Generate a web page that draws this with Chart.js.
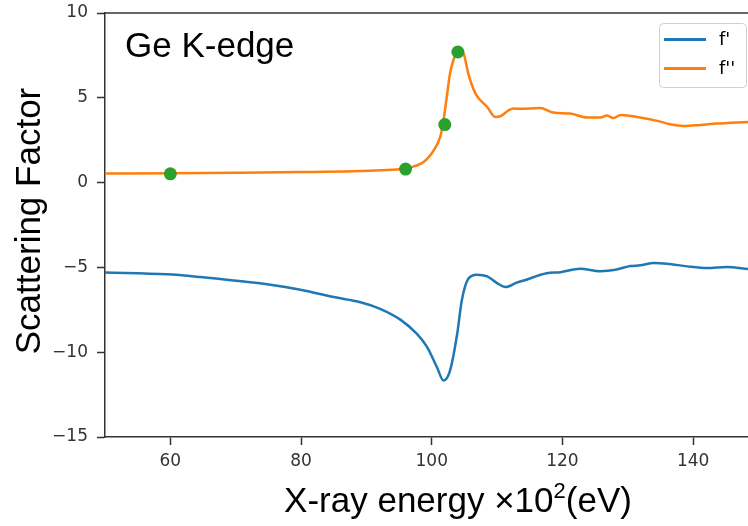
<!DOCTYPE html>
<html>
<head>
<meta charset="utf-8">
<script src="https://cdn.jsdelivr.net/npm/chart.js@4.4.0/dist/chart.umd.min.js"></script>
<style>
  html, body { margin: 0; padding: 0; background: #fff; }
  #wrap { width: 748px; height: 526px; position: relative; }
</style>
</head>
<body>
<div id="wrap"><canvas id="chart" width="748" height="526"></canvas></div>
<script>
// f' (blue)
const fpX = [50, 59.5, 64.6, 69.7, 74.8, 79.9, 85, 89.1, 92.1, 95.2, 97.7, 99.3, 100.8, 101.8, 102.8, 103.9, 104.6, 105.6, 106.9, 108.5, 110, 111.3, 113, 114.1, 117.6, 119.7, 122.7, 125.8, 128.3, 130.4, 131.9, 134, 136, 139.1, 142.1, 145.2, 148.4];
const fpY = [-5.3, -5.41, -5.57, -5.77, -6.0, -6.32, -6.75, -7.05, -7.44, -8.08, -8.91, -9.7, -10.89, -11.67, -11.08, -8.91, -6.95, -5.67, -5.43, -5.53, -5.93, -6.16, -5.9, -5.77, -5.34, -5.28, -5.08, -5.22, -5.12, -4.92, -4.88, -4.74, -4.78, -4.94, -5.04, -4.98, -5.1];

// f'' (orange)
const fppX = [50, 60, 70, 80, 88, 92.2, 95.7, 98.75, 100.3, 101.3, 101.7, 102.3, 102.8, 103.3, 103.9, 104.5, 104.9, 105.6, 106.7, 108.5, 109.7, 110.5, 111.8, 112.5, 113.5, 116.6, 118.6, 121.2, 123.8, 125.8, 126.8, 127.8, 128.9, 131.9, 134.5, 136.5, 138.5, 141.1, 143.6, 148.4];
const fppY = [0.53, 0.55, 0.58, 0.62, 0.67, 0.73, 0.83, 1.22, 1.9, 2.7, 3.42, 5.05, 6.43, 7.2, 7.67, 7.75, 7.6, 6.43, 5.25, 4.46, 3.87, 3.91, 4.27, 4.37, 4.35, 4.4, 4.13, 4.07, 3.84, 3.84, 3.95, 3.81, 3.99, 3.84, 3.64, 3.44, 3.34, 3.4, 3.48, 3.58];

// green markers
const markX = [60, 96, 102, 104];
const markY = [0.52, 0.8, 3.42, 7.7];

const xTicks = [60, 80, 100, 120, 140];
const yTicks = [-15, -10, -5, 0, 5, 10];

const toPoints = (xs, ys) => xs.map((x, i) => ({ x: x, y: ys[i] }));

const axisColor = '#333333';

// texts, legend and top spine
const overlay = {
    id: 'overlay',
    afterDraw(chart) {
        const ctx = chart.ctx;
        const area = chart.chartArea;
        ctx.save();
        // top spine
        ctx.strokeStyle = axisColor;
        ctx.lineWidth = 1.5;
        ctx.beginPath();
        ctx.moveTo(area.left, area.top);
        ctx.lineTo(area.right, area.top);
        ctx.stroke();

        ctx.fillStyle = '#000';
        ctx.font = '35px "Liberation Sans", Arial, sans-serif';
        ctx.textBaseline = 'alphabetic';
        ctx.textAlign = 'left';
        ctx.fillText('Ge K-edge', 125, 57);

        // x title with superscript
        const a = 'X-ray energy \u00d710', sup = '2', b = '(eV)';
        const wa = ctx.measureText(a).width;
        ctx.font = '22px "Liberation Sans", Arial, sans-serif';
        const ws = ctx.measureText(sup).width;
        ctx.font = '35px "Liberation Sans", Arial, sans-serif';
        const wb = ctx.measureText(b).width;
        let x0 = 458 - (wa + ws + wb) / 2;
        ctx.fillText(a, x0, 512);
        ctx.font = '22px "Liberation Sans", Arial, sans-serif';
        ctx.fillText(sup, x0 + wa, 498);
        ctx.font = '35px "Liberation Sans", Arial, sans-serif';
        ctx.fillText(b, x0 + wa + ws, 512);

        // y title
        ctx.save();
        ctx.translate(40, 221);
        ctx.rotate(-Math.PI / 2);
        ctx.textAlign = 'center';
        ctx.fillText('Scattering Factor', 0, 0);
        ctx.restore();

        // legend
        const bx = 659, by = 23, bw = 87, bh = 64;
        ctx.fillStyle = 'rgba(255,255,255,0.8)';
        ctx.strokeStyle = '#d0d0d0';
        ctx.lineWidth = 1;
        ctx.beginPath();
        ctx.roundRect(bx + 0.5, by + 0.5, bw, bh, 4);
        ctx.fill();
        ctx.stroke();
        const items = chart.data.datasets.slice(0, 2);
        items.forEach((ds, i) => {
            const y = 39.5 + i * 29;
            ctx.strokeStyle = ds.borderColor;
            ctx.lineWidth = 3;
            ctx.beginPath();
            ctx.moveTo(664, y);
            ctx.lineTo(706, y);
            ctx.stroke();
            ctx.fillStyle = '#000';
            ctx.font = '18px "DejaVu Sans", sans-serif';
            ctx.textAlign = 'left';
            ctx.textBaseline = 'middle';
            ctx.fillText(ds.label, 719, y + 1);
        });
        ctx.restore();
    }
};

new Chart(document.getElementById('chart'), {
    type: 'line',
    data: {
        datasets: [
            {
                label: "f'",
                data: toPoints(fpX, fpY),
                borderColor: '#1f77b4',
                borderWidth: 2.5,
                pointRadius: 0,
                cubicInterpolationMode: 'monotone',
                fill: false,
                order: 2
            },
            {
                label: "f''",
                data: toPoints(fppX, fppY),
                borderColor: '#ff7f0e',
                borderWidth: 2.5,
                pointRadius: 0,
                cubicInterpolationMode: 'monotone',
                fill: false,
                order: 1
            },
            {
                label: 'points',
                data: toPoints(markX, markY),
                showLine: false,
                pointRadius: 6.5,
                pointBackgroundColor: '#2ca02c',
                pointBorderColor: '#2ca02c',
                pointBorderWidth: 0,
                order: 0
            }
        ]
    },
    options: {
        responsive: false,
        animation: false,
        devicePixelRatio: 1,
        layout: { autoPadding: false, padding: { left: 0, top: 13, right: 0, bottom: 0 } },
        plugins: {
            legend: { display: false },
            tooltip: { enabled: false }
        },
        scales: {
            x: {
                type: 'linear',
                min: 50,
                max: 148.4,
                afterBuildTicks: (scale) => { scale.ticks = xTicks.map(v => ({ value: v })); },
                afterFit: (scale) => {
                    scale.height = 89;
                    scale.paddingLeft = 0;
                    scale.paddingRight = 0;
                },
                grid: { drawOnChartArea: false, tickLength: 8, tickColor: axisColor, tickWidth: 1.5 },
                border: { color: axisColor, width: 1.5 },
                ticks: {
                    color: '#333',
                    padding: 6,
                    font: { family: '"DejaVu Sans", sans-serif', size: 17 }
                }
            },
            y: {
                min: -15,
                max: 10,
                afterBuildTicks: (scale) => { scale.ticks = yTicks.map(v => ({ value: v })); },
                afterFit: (scale) => {
                    scale.width = 105;
                    scale.paddingTop = 0;
                    scale.paddingBottom = 0;
                },
                grid: { drawOnChartArea: false, tickLength: 8, tickColor: axisColor, tickWidth: 1.5 },
                border: { color: axisColor, width: 1.5 },
                ticks: {
                    color: '#333',
                    padding: 9,
                    font: { family: '"DejaVu Sans", sans-serif', size: 17 },
                    callback: (v) => String(v).replace('-', '\u2212')
                }
            }
        }
    },
    plugins: [overlay]
});
</script>
</body>
</html>
